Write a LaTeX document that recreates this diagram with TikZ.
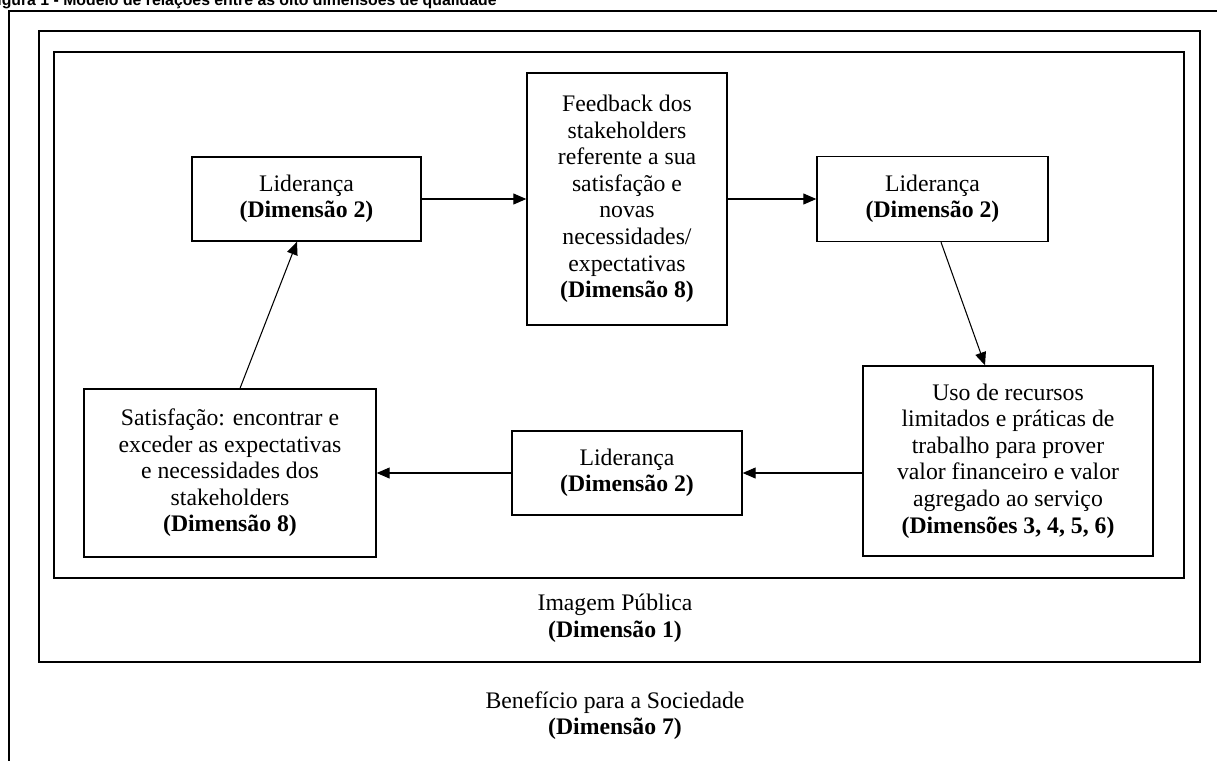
\documentclass[tikz,border=0pt]{standalone}
\usepackage{fontspec}
\setmainfont{Liberation Serif}
\newfontfamily\titlefont{Liberation Sans}
\usepackage{tikz}
\usetikzlibrary{arrows.meta,positioning}

\begin{document}
\begin{tikzpicture}[auto, node distance=6cm, line width=0.8pt,
                    dim node/.style={rectangle,draw,align=center,inner sep=2pt,font=\fontsize{13.5}{15.1}\selectfont},
                    seta/.style={-{Triangle[length=2.6mm,width=2.2mm]},line width=0.6pt}]
  \useasboundingbox (0,0) rectangle (24.34,-15.2);
  \clip (0,0) rectangle (24.34,-15.2);
  % molduras
  \draw (0.18,-15.6) |- (24.7,-0.22);
  \draw (0.78,-0.62) rectangle (24.0,-13.24);
  \draw (1.08,-1.04) rectangle (23.68,-11.56);
  \node[anchor=base west,inner sep=0,font=\titlefont\bfseries\fontsize{9}{10}\selectfont] (titulo) at (-0.26,-0.1)
    {Figura 1 - Modelo de relações entre as oito dimensões de qualidade};
  \node[dim node, minimum width=4cm, minimum height=5.04cm] (fb) at (12.54,-3.98)
    {Feedback dos\\stakeholders\\referente a sua\\satisfação e\\novas\\necessidades/\\expectativas\\\textbf{(Dimensão 8)}};
  \node[dim node, minimum width=4.58cm, minimum height=1.68cm] (lid1) [left of=fb, node distance=6.41cm]
    {Liderança\\\textbf{(Dimensão 2)}};
  \node[dim node, minimum width=4.62cm, minimum height=1.7cm] (lid2) [right of=fb, node distance=6.11cm]
    {Liderança\\\textbf{(Dimensão 2)}};
  \node[dim node, minimum width=4.6cm, minimum height=1.68cm] (lid3) [below of=fb, node distance=5.48cm]
    {Liderança\\\textbf{(Dimensão 2)}};
  \node[dim node, minimum width=5.84cm, minimum height=3.36cm] (satisf) [left of=lid3, node distance=7.94cm]
    {Satisfação: encontrar e\\exceder as expectativas\\e necessidades dos\\stakeholders\\\textbf{(Dimensão 8)}};
  \node[dim node, minimum width=5.8cm, minimum height=3.8cm] (uso) [right of=lid3, node distance=7.62cm, yshift=0.24cm]
    {Uso de recursos\\limitados e práticas de\\trabalho para prover\\valor financeiro e valor\\agregado ao serviço\\\textbf{(Dimensões 3, 4, 5, 6)}};
  \node[align=center,font=\fontsize{13.5}{15.1}\selectfont] (imagem) at (12.3,-12.36)
    {Imagem Pública\\\textbf{(Dimensão 1)}};
  \node[align=center,font=\fontsize{13.5}{15.1}\selectfont] (beneficio) at (12.3,-14.31)
    {Benefício para a Sociedade\\\textbf{(Dimensão 7)}};
  % setas
  \draw[seta] ([xshift=0.2cm]satisf.north) -- ([xshift=-0.19cm]lid1.south);
  \path[seta] (lid1) edge (fb)
              (fb) edge (lid2);
  \draw[seta] ([xshift=0.17cm]lid2.south) -- ([xshift=-0.46cm]uso.north);
  \draw[seta] (uso.west |- lid3) -- (lid3.east);
  \draw[seta] (lid3.west) -- (satisf.east |- lid3.west);
\end{tikzpicture}
\end{document}
